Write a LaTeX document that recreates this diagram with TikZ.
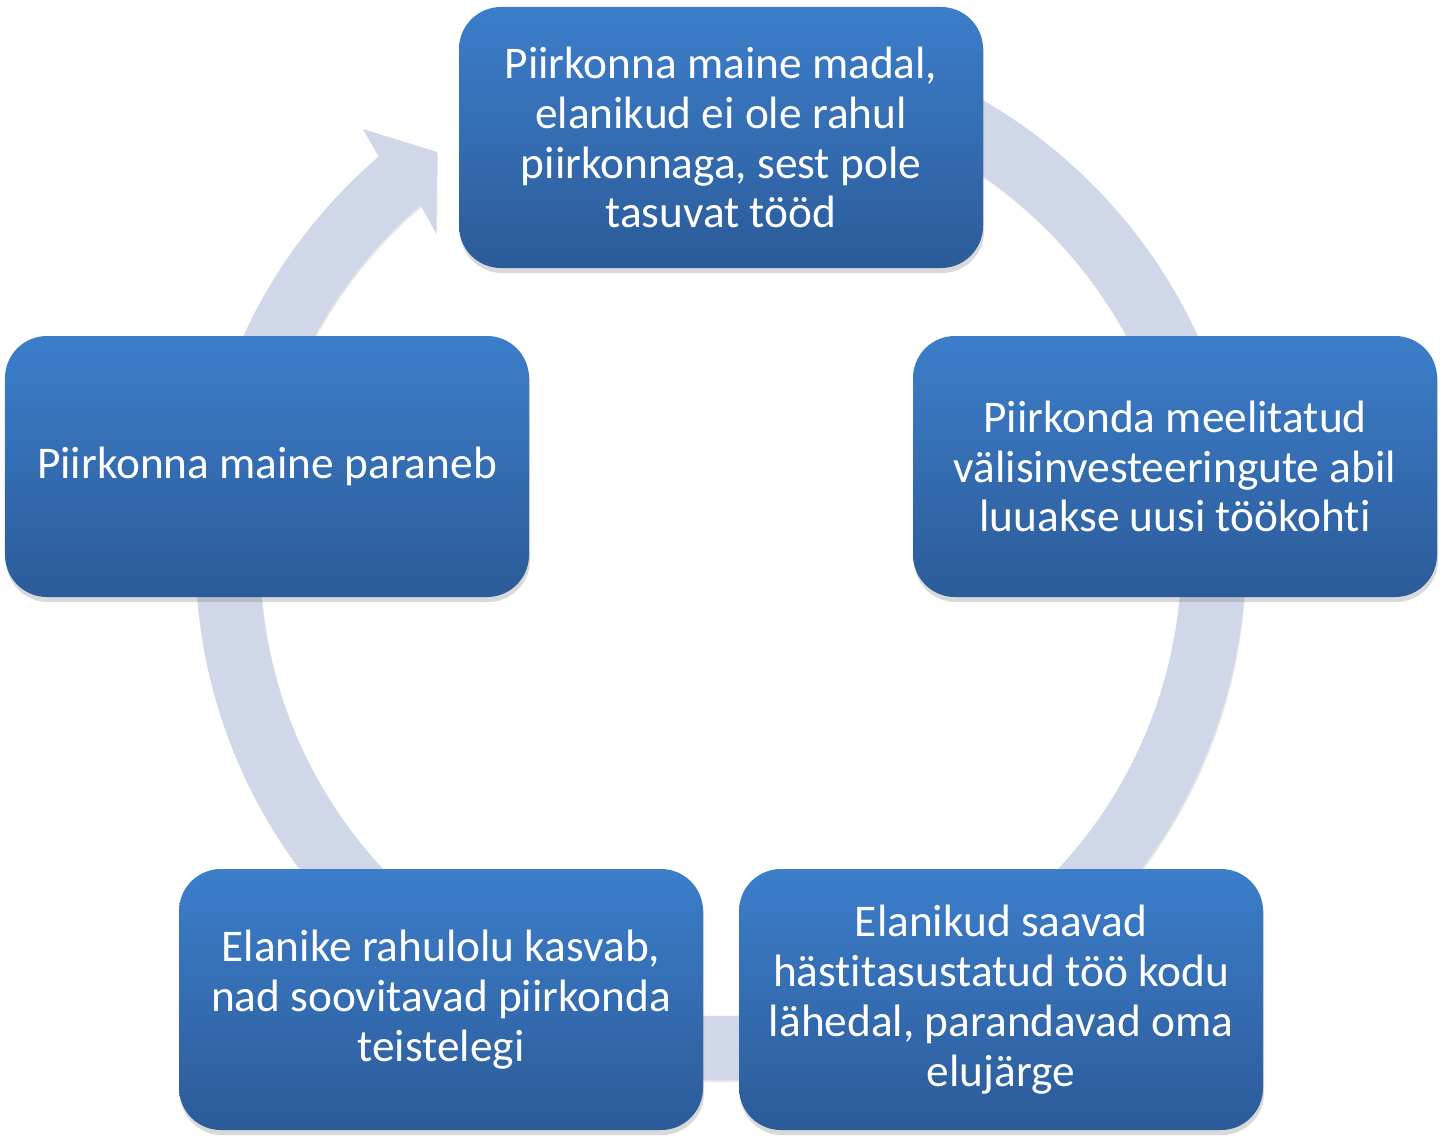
\documentclass[tikz,border=0pt]{standalone}
\usepackage{fontspec}
\setmainfont{Carlito}[Ligatures=NoCommon]
\usepackage{tikz}
\usetikzlibrary{shadows,calc}

\definecolor{ringvarv}{RGB}{208,215,232}
\definecolor{kastyla}{RGB}{60,126,202}
\definecolor{kastall}{RGB}{44,91,153}

\tikzset{
  etapp/.style={rectangle, rounded corners=0.42cm, minimum width=5.24cm,
    minimum height=2.61cm, top color=kastyla, bottom color=kastall,
    text=white, align=center, inner sep=0pt,
    font=\fontsize{12.9}{14.2}\selectfont,
    drop shadow={shadow xshift=0.01cm, shadow yshift=-0.05cm, opacity=0.3}},
  rada/.style={fill=ringvarv,
    drop shadow={shadow xshift=0.01cm, shadow yshift=-0.02cm, opacity=0.2}}
}

\begin{document}
\begin{tikzpicture}
    \useasboundingbox (0,0) rectangle (14.41,11.39);
    \coordinate (ring) at (7.205,5.84);
    \fill[rada] ($(ring)+(90:5.25)$) arc[start angle=90, end angle=-229.4, radius=5.25]
        -- (3.63,10.10) -- (4.37,9.87) -- (4.36,9.06)
        -- ($(ring)+(130.6:4.61)$) arc[start angle=130.6, end angle=450, radius=4.61] -- cycle;
    \node[etapp] (madal) at (7.21,10.015) {Piirkonna maine madal,\\elanikud ei ole rahul\\piirkonnaga, sest pole\\tasuvat tööd};
    \node[etapp] (tookoht) at (11.75,6.725) {Piirkonda meelitatud\\välisinvesteeringute abil\\luuakse uusi töökohti};
    \node[etapp] (elujarg) at (10.01,1.395) {Elanikud saavad\\hästitasustatud töö kodu\\lähedal, parandavad oma\\elujärge};
    \node[etapp] (rahulolu) at (4.41,1.395) {Elanike rahulolu kasvab,\\nad soovitavad piirkonda\\teistelegi};
    \node[etapp] (paraneb) at (2.67,6.725) {Piirkonna maine paraneb};
\end{tikzpicture}
\end{document}
